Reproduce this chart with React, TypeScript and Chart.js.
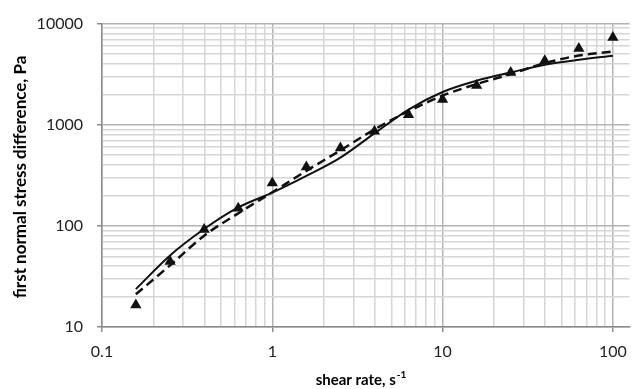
import React, { useEffect, useRef } from 'react';
import { Chart, registerables } from 'chart.js';

Chart.register(...registerables);

// Data
const shearRate = [0.158, 0.251, 0.398, 0.631, 1, 1.585, 2.512, 3.981, 6.31, 10, 15.85, 25.12, 39.81, 63.1, 100];
const measured = [16.5, 44.5, 92, 149, 266, 383, 590, 860, 1255, 1775, 2440, 3290, 4290, 5680, 7270];
const modelSolid = [23.7, 51, 93, 152, 213, 312, 473, 821, 1413, 2109, 2729, 3290, 3920, 4387, 4800];
const modelDashed = [21.1, 40.7, 80, 133, 215, 350, 558, 899, 1361, 1941, 2524, 3162, 4064, 4830, 5300];

const xMajorTicks = [0.1, 1, 10, 100];
const yMajorTicks = [10, 100, 1000, 10000];
const xTickLabels = ['0.1', '1', '10', '100'];
const yTickLabels = ['10', '100', '1000', '10000'];
const xMin = 0.1;
const xMax = 125.4;
const yMin = 10;
const yMax = 10000;

const xTitle = 'shear rate, s';
const xTitleSup = '-1';
const yTitle = 'first normal stress difference, Pa';

function logGrid(majors: number[]): number[] {
  const out: number[] = [];
  for (let i = 0; i < majors.length; i++) {
    const m = majors[i];
    if (i === majors.length - 1) {
      out.push(m);
    } else {
      for (let k = 1; k < 10; k++) out.push(+(m * k).toPrecision(6));
    }
  }
  return out;
}

function isMajor(v: number, majors: number[]) {
  return majors.some((m) => Math.abs(m - v) / m < 1e-6);
}

const titlePlugin = {
  id: 'customTitles',
  afterDraw(chart: any) {
    const ctx = chart.ctx;
    ctx.save();
    ctx.fillStyle = '#000';
    // x title
    ctx.font = 'bold 15px Lato';
    ctx.textBaseline = 'alphabetic';
    ctx.textAlign = 'left';
    const w = ctx.measureText(xTitle).width;
    ctx.font = 'bold 10px Lato';
    const ws = ctx.measureText(xTitleSup).width;
    const total = w + ws + 1;
    const cx = 361;
    const x0 = cx - total / 2;
    ctx.font = 'bold 15px Lato';
    ctx.fillText(xTitle, x0, 385);
    ctx.font = 'bold 10px Lato';
    ctx.fillText(xTitleSup, x0 + w + 1, 378);
    // y title
    ctx.font = 'bold 17px Lato';
    ctx.translate(26, 177);
    ctx.rotate(-Math.PI / 2);
    ctx.textAlign = 'center';
    ctx.fillText(yTitle, 0, 0);
    ctx.restore();
  },
};

export default function App() {
  const ref = useRef<HTMLCanvasElement | null>(null);

  useEffect(() => {
    if (!ref.current) return;
    const toPts = (ys: number[]) => shearRate.map((x, i) => ({ x, y: ys[i] }));
    const chart = new Chart(ref.current, {
      type: 'scatter',
      data: {
        datasets: [
          {
            label: 'measured',
            data: toPts(measured),
            showLine: false,
            pointStyle: 'triangle',
            pointRadius: 6.5,
            pointBackgroundColor: '#111',
            pointBorderColor: '#111',
            pointBorderWidth: 0,
          },
          {
            label: 'model 1',
            data: toPts(modelSolid),
            showLine: true,
            borderColor: '#111',
            borderWidth: 2,
            pointRadius: 0,
            cubicInterpolationMode: 'monotone',
          },
          {
            label: 'model 2',
            data: toPts(modelDashed),
            showLine: true,
            borderColor: '#111',
            borderWidth: 2.5,
            borderDash: [9, 5],
            pointRadius: 0,
            cubicInterpolationMode: 'monotone',
          },
        ],
      } as any,
      options: {
        animation: false,
        responsive: true,
        maintainAspectRatio: false,
        layout: { padding: { top: 22, right: 0, left: 0, bottom: 0 } },
        plugins: { legend: { display: false }, tooltip: { enabled: false }, title: { display: false } },
        scales: {
          x: {
            type: 'logarithmic',
            min: xMin,
            max: xMax,
            afterBuildTicks: (scale: any) => {
              scale.ticks = logGrid(xMajorTicks).map((v) => ({ value: v, major: isMajor(v, xMajorTicks) }));
            },
            afterFit: (scale: any) => {
              scale.height = 62;
            },
            border: { color: '#8a8a8a', width: 1.5 },
            grid: {
              color: (c: any) => (c.tick && isMajor(c.tick.value, xMajorTicks) ? '#b3b3b3' : '#d6d6d6'),
              tickColor: (c: any) => (c.tick && isMajor(c.tick.value, xMajorTicks) ? '#8a8a8a' : 'rgba(0,0,0,0)'),
              lineWidth: 1.5,
              tickLength: 5,
            },
            ticks: {
              autoSkip: false,
              maxRotation: 0,
              padding: 10,
              color: '#222',
              font: { family: 'Lato', size: 16 },
              callback: (v: any) => {
                const i = xMajorTicks.findIndex((m) => Math.abs(m - Number(v)) / m < 1e-6);
                return i >= 0 ? xTickLabels[i] : '';
              },
            },
          },
          y: {
            type: 'logarithmic',
            min: yMin,
            max: yMax,
            afterBuildTicks: (scale: any) => {
              scale.ticks = logGrid(yMajorTicks).map((v) => ({ value: v, major: isMajor(v, yMajorTicks) }));
            },
            afterFit: (scale: any) => {
              scale.width = 102;
            },
            border: { color: '#8a8a8a', width: 1.5 },
            grid: {
              color: (c: any) => (c.tick && isMajor(c.tick.value, yMajorTicks) ? '#b3b3b3' : '#d6d6d6'),
              tickColor: (c: any) => (c.tick && isMajor(c.tick.value, yMajorTicks) ? '#8a8a8a' : 'rgba(0,0,0,0)'),
              lineWidth: 1.5,
              tickLength: 5,
            },
            ticks: {
              autoSkip: false,
              padding: 14,
              color: '#222',
              font: { family: 'Lato', size: 16 },
              callback: (v: any) => {
                const i = yMajorTicks.findIndex((m) => Math.abs(m - Number(v)) / m < 1e-6);
                return i >= 0 ? yTickLabels[i] : '';
              },
            },
          },
        },
      } as any,
      plugins: [titlePlugin],
    });
    return () => chart.destroy();
  }, []);

  return (
    <div style={{ position: 'absolute', left: 0, top: 0, width: 637, height: 389, background: '#fff' }}>
      <canvas ref={ref} />
    </div>
  );
}
